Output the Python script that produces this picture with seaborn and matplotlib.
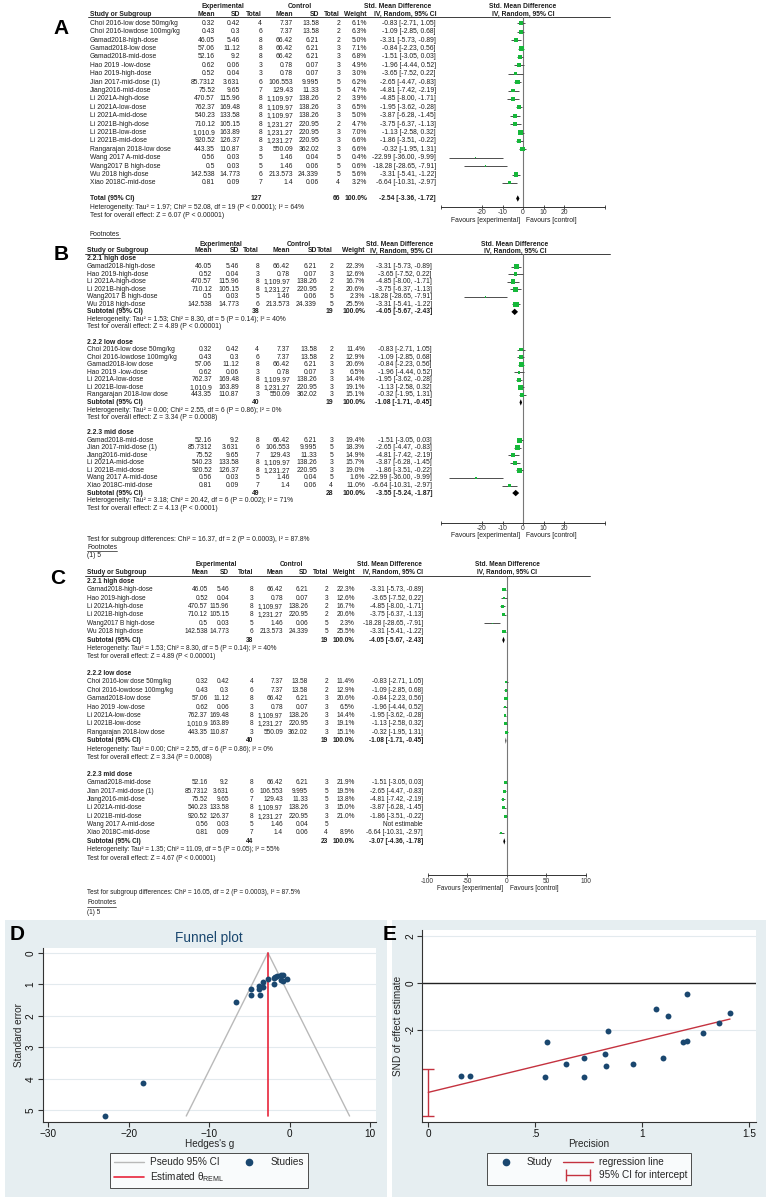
import numpy as np
import pandas as pd
import matplotlib
matplotlib.use("Agg")
import matplotlib.pyplot as plt
import seaborn as sns
from matplotlib.patches import Rectangle
from matplotlib.lines import Line2D
from matplotlib.legend_handler import HandlerLine2D

# ---------------- study data (order of panel A) ----------------
studies = ["Choi 2016-low dose 50mg/kg", "Choi 2016-lowdose 100mg/kg", "Gamad2018-high-dose",
           "Gamad2018-low dose", "Gamad2018-mid-dose", "Hao 2019 -low-dose", "Hao 2019-high-dose",
           "Jian 2017-mid-dose (1)", "Jiang2016-mid-dose", "Li 2021A-high-dose", "Li 2021A-low-dose",
           "Li 2021A-mid-dose", "Li 2021B-high-dose", "Li 2021B-low-dose", "Li 2021B-mid-dose",
           "Rangarajan 2018-low dose", "Wang 2017 A-mid-dose", "Wang2017 B high-dose",
           "Wu 2018 high-dose", "Xiao 2018C-mid-dose"]
exp_mean = ["0.32", "0.43", "46.05", "57.06", "52.16", "0.62", "0.52", "85.7312", "75.52", "470.57",
            "762.37", "540.23", "710.12", "1,010.9", "920.52", "443.35", "0.56", "0.5", "142.538", "0.81"]
exp_sd = ["0.42", "0.3", "5.46", "11.12", "9.2", "0.06", "0.04", "3.631", "9.65", "115.96",
          "169.48", "133.58", "105.15", "163.89", "126.37", "110.87", "0.03", "0.03", "14.773", "0.09"]
exp_n = [4, 6, 8, 8, 8, 3, 3, 6, 7, 8, 8, 8, 8, 8, 8, 3, 5, 5, 6, 7]
ctl_mean = ["7.37", "7.37", "66.42", "66.42", "66.42", "0.78", "0.78", "106.553", "129.43", "1,109.97",
            "1,109.97", "1,109.97", "1,231.27", "1,231.27", "1,231.27", "550.09", "1.46", "1.46", "213.573", "1.4"]
ctl_sd = ["13.58", "13.58", "6.21", "6.21", "6.21", "0.07", "0.07", "9.995", "11.33", "138.26",
          "138.26", "138.26", "220.95", "220.95", "220.95", "362.02", "0.04", "0.06", "24.339", "0.06"]
ctl_n = [2, 2, 2, 3, 3, 3, 3, 5, 5, 2, 3, 3, 2, 3, 3, 3, 5, 5, 5, 4]
weight_A = [6.1, 6.3, 5.0, 7.1, 6.8, 4.9, 3.0, 6.2, 4.7, 3.9, 6.5, 5.0, 4.7, 7.0, 6.6, 6.6, 0.4, 0.6, 5.6, 3.2]
smd = [-0.83, -1.09, -3.31, -0.84, -1.51, -1.96, -3.65, -2.65, -4.81, -4.85,
       -1.95, -3.87, -3.75, -1.13, -1.86, -0.32, -22.99, -18.28, -3.31, -6.64]
ci_lo = [-2.71, -2.85, -5.73, -2.23, -3.05, -4.44, -7.52, -4.47, -7.42, -8.00,
         -3.62, -6.28, -6.37, -2.58, -3.51, -1.95, -36.00, -28.65, -5.41, -10.31]
ci_hi = [1.05, 0.68, -0.89, 0.56, 0.03, 0.52, 0.22, -0.83, -2.19, -1.71,
         -0.28, -1.45, -1.13, 0.32, -0.22, 1.31, -9.99, -7.91, -1.22, -2.97]

total_A = ["Total (95% CI)", 127, 66, -2.54, -3.36, -1.72]
het_A = "Heterogeneity: Tau² = 1.97; Chi² = 52.08, df = 19 (P < 0.0001); I² = 64%"
z_A = "Test for overall effect: Z = 6.07 (P < 0.00001)"

# subgroups (panels B and C)
sub_labels = ["2.2.1 high dose", "2.2.2 low dose", "2.2.3 mid dose"]
sub_idx = [[2, 6, 9, 12, 17, 18], [0, 1, 3, 5, 10, 13, 15], [4, 7, 8, 11, 14, 16, 19]]
w_B = [[22.3, 12.6, 16.7, 20.6, 2.3, 25.5], [11.4, 12.9, 20.6, 6.5, 14.4, 19.1, 15.1],
       [19.4, 18.3, 14.9, 15.7, 19.0, 1.6, 11.0]]
ne_B = [38, 40, 49]
nc_B = [19, 19, 28]
est_B = [-4.05, -1.08, -3.55]
lo_B = [-5.67, -1.71, -5.24]
hi_B = [-2.43, -0.45, -1.87]
het_B = ["Heterogeneity: Tau² = 1.53; Chi² = 8.30, df = 5 (P = 0.14); I² = 40%",
         "Heterogeneity: Tau² = 0.00; Chi² = 2.55, df = 6 (P = 0.86); I² = 0%",
         "Heterogeneity: Tau² = 3.18; Chi² = 20.42, df = 6 (P = 0.002); I² = 71%"]
z_B = ["Test for overall effect: Z = 4.89 (P < 0.00001)",
       "Test for overall effect: Z = 3.34 (P = 0.0008)",
       "Test for overall effect: Z = 4.13 (P < 0.0001)"]
diff_B = "Test for subgroup differences: Chi² = 16.37, df = 2 (P = 0.0003), I² = 87.8%"

w_C = [[22.3, 12.6, 16.7, 20.6, 2.3, 25.5], [11.4, 12.9, 20.6, 6.5, 14.4, 19.1, 15.1],
       [21.9, 19.5, 13.8, 15.0, 21.0, np.nan, 8.9]]
ne_C = [38, 40, 44]
nc_C = [19, 19, 23]
est_C = [-4.05, -1.08, -3.07]
lo_C = [-5.67, -1.71, -4.36]
hi_C = [-2.43, -0.45, -1.78]
het_C = [het_B[0], het_B[1], "Heterogeneity: Tau² = 1.35; Chi² = 11.09, df = 5 (P = 0.05); I² = 55%"]
z_C = [z_B[0], z_B[1], "Test for overall effect: Z = 4.67 (P < 0.00001)"]
diff_C = "Test for subgroup differences: Chi² = 16.05, df = 2 (P = 0.0003), I² = 87.5%"

# funnel plot (D): standard errors, same order as studies
se_funnel = [0.90, 0.86, 1.08, 0.70, 0.75, 0.99, 1.33, 0.83, 1.14, 1.34,
             0.79, 1.07, 1.15, 0.72, 0.78, 0.82, 5.18, 4.14, 0.93, 1.55]
theta_reml = -2.70

# Galbraith / Egger plot (E)
prec_E = [0.154, 0.195, 0.547, 0.553, 0.642, 0.729, 0.729, 0.827, 0.830, 0.840,
          0.956, 1.064, 1.097, 1.122, 1.188, 1.207, 1.209, 1.282, 1.360, 1.410]
snd_E = [-3.97, -3.97, -3.99, -2.52, -3.45, -3.18, -3.99, -3.04, -3.52, -2.06,
         -3.46, -1.10, -3.18, -1.40, -2.52, -2.45, -0.48, -2.12, -1.70, -1.29]
egger_ci = [-5.65, -3.67]

# ---------------- figure set-up ----------------
sns.set_theme(style="white")
plt.rcParams["font.family"] = ["Liberation Sans", "DejaVu Sans"]

W, H = 768, 1200
TXT = "#1e1e1e"
GREEN = "#16b83a"
CI_COL = "#4d4d4d"
NAVY = "#1a476f"
BG = "#e6eef1"

fig = plt.figure(figsize=(7.68, 12), dpi=100)
canvas = fig.add_axes([0, 0, 1, 1])
canvas.set_xlim(0, W)
canvas.set_ylim(H, 0)
canvas.axis("off")


def px_axes(x0, y0, x1, y1):
    return fig.add_axes([x0 / W, 1 - y1 / H, (x1 - x0) / W, (y1 - y0) / H])


def txt(x, y, s, fs, ha="left", bold=False):
    return canvas.text(x, y, s, fontsize=fs, color=TXT, ha=ha, va="center",
                       fontweight="bold" if bold else "normal")


def underline(t, y):
    r = fig.canvas.get_renderer()
    bb = t.get_window_extent(r).transformed(canvas.transData.inverted())
    canvas.plot([bb.x0, bb.x1], [y, y], color=TXT, lw=0.5)


def header(cols, y1, y2, x_end, fs):
    txt(cols["exp"], y1, "Experimental", fs, "center", True)
    txt(cols["ctl"], y1, "Control", fs, "center", True)
    txt(cols["smd"], y1, "Std. Mean Difference", fs, "center", True)
    txt(cols["forest"], y1, "Std. Mean Difference", fs, "center", True)
    txt(cols["study"], y2, "Study or Subgroup", fs, "left", True)
    for key, lab in [("em", "Mean"), ("esd", "SD"), ("en", "Total"), ("cm", "Mean"), ("csd", "SD"),
                     ("cn", "Total"), ("w", "Weight"), ("ci", "IV, Random, 95% CI")]:
        txt(cols[key], y2, lab, fs, "right", True)
    txt(cols["forest"], y2, "IV, Random, 95% CI", fs, "center", True)
    canvas.plot([cols["study"] - 2, x_end], [y2 + 3.2, y2 + 3.2], color=TXT, lw=0.6)


def study_row(cols, y, i, w, fs):
    txt(cols["study"], y, studies[i], fs)
    vals = [exp_mean[i], exp_sd[i], str(exp_n[i]), ctl_mean[i], ctl_sd[i], str(ctl_n[i])]
    for key, v in zip(["em", "esd", "en", "cm", "csd", "cn"], vals):
        txt(cols[key], y, v, fs, "right")
    if np.isnan(w):
        txt(cols["ci"], y, "Not estimable", fs, "right")
    else:
        txt(cols["w"], y, f"{w:.1f}%", fs, "right")
        txt(cols["ci"], y, f"{smd[i]:.2f} [{ci_lo[i]:.2f}, {ci_hi[i]:.2f}]", fs, "right")


def total_row(cols, y, label, n_e, n_c, est, lo, hi, fs):
    txt(cols["study"], y, label, fs, "left", True)
    txt(cols["en"], y, str(n_e), fs, "right", True)
    txt(cols["cn"], y, str(n_c), fs, "right", True)
    txt(cols["w"], y, "100.0%", fs, "right", True)
    txt(cols["ci"], y, f"{est:.2f} [{lo:.2f}, {hi:.2f}]", fs, "right", True)


def forest_axes(x0, x1, y_top, y_axis, lim, fav_y, fs):
    ax = px_axes(x0, y_top, x1, y_axis)
    ax.set_facecolor("none")
    for s in ["top", "left", "right"]:
        ax.spines[s].set_visible(False)
    ax.spines["bottom"].set_color("#333333")
    ax.spines["bottom"].set_linewidth(0.7)
    ax.axvline(0, color="#777777", lw=0.8, zorder=1)
    off = 3 * 2 * lim / (x1 - x0)
    ax.text(-off, fav_y, "Favours [experimental]", fontsize=fs, color=TXT, ha="right", va="center")
    ax.text(off, fav_y, "Favours [control]", fontsize=fs, color=TXT, ha="left", va="center")
    return ax


def finish_forest(ax, y_top, y_axis, lim, ticks, labels, fs):
    ax.set_xlim(-lim, lim)
    ax.set_ylim(y_axis, y_top)
    ax.set_xticks(ticks)
    ax.set_xticklabels(labels)
    ax.set_yticks([])
    ax.set_xlabel("")
    ax.set_ylabel("")
    ax.tick_params(axis="x", bottom=True, direction="inout", length=3, width=0.6,
                   labelsize=fs, pad=0.5, colors="#333333")


def forest_marks(ax, idx, weights, ys, k_area):
    df = pd.DataFrame({"smd": [smd[i] for i in idx], "lo": [ci_lo[i] for i in idx],
                       "hi": [ci_hi[i] for i in idx], "w": weights, "y": ys}).dropna()
    ax.hlines(df["y"], df["lo"], df["hi"], color=CI_COL, lw=0.7, zorder=2)
    sns.scatterplot(data=df, x="smd", y="y", size="w", sizes=(0, k_area * 100), size_norm=(0, 100),
                    marker="s", color=GREEN, linewidth=0, legend=False, ax=ax, zorder=3)


def diamond(ax, y, est, lo, hi, h=3.2):
    ax.fill([lo, est, hi, est], [y, y - h, y, y + h], color="black", lw=0, zorder=4)


# ---------------- panel A ----------------
fsA = 4.9
colsA = dict(study=90, em=215, esd=240, en=262, cm=293, csd=319, cn=340, w=367, ci=436,
             exp=223, ctl=300, smd=398, forest=523)
canvas.text(61, 29, "A", fontsize=15, fontweight="bold", color="black", ha="center", va="center")
header(colsA, 6, 14, 610, fsA)
rowA = 23.3 + 8.4 * np.arange(len(studies))
for i, y in enumerate(rowA):
    study_row(colsA, y, i, weight_A[i], fsA)
total_row(colsA, 198.5, *total_A, fsA)
txt(colsA["study"], 207.7, het_A, fsA)
txt(colsA["study"], 215.7, z_A, fsA)
t = txt(colsA["study"], 234, "Footnotes", fsA)
underline(t, 237.5)

axA = forest_axes(441, 605, 17.2, 206.7, 40, 220, fsA)
forest_marks(axA, list(range(len(studies))), weight_A, rowA, 1.5)
diamond(axA, 198.5, total_A[3], total_A[4], total_A[5])
finish_forest(axA, 17.2, 206.7, 40, [-40, -20, -10, 0, 10, 20, 40],
              ["", "-20", "-10", "0", "10", "20", ""], fsA)


# ---------------- panels B and C ----------------
def subgroup_panel(cols, ax, y0, step, ws, ne, nc, est, lo, hi, het, zz, fs, k_area):
    k = 0
    for g in range(3):
        idx = sub_idx[g]
        txt(cols["study"], y0 + k * step, sub_labels[g], fs, "left", True)
        ys = y0 + step * (k + 1 + np.arange(len(idx)))
        for i, w, y in zip(idx, ws[g], ys):
            study_row(cols, y, i, w, fs)
        forest_marks(ax, idx, ws[g], ys, k_area)
        ysub = y0 + step * (k + len(idx) + 1)
        total_row(cols, ysub, "Subtotal (95% CI)", ne[g], nc[g], est[g], lo[g], hi[g], fs)
        diamond(ax, ysub, est[g], lo[g], hi[g])
        txt(cols["study"], ysub + step, het[g], fs)
        txt(cols["study"], ysub + 2 * step, zz[g], fs)
        k += len(idx) + 5


fsB = 4.9
colsB = dict(study=87, em=212, esd=239, en=259, cm=290, csd=317, cn=333, w=365, ci=432,
             exp=221, ctl=299, smd=400, forest=515)
canvas.text(61, 254, "B", fontsize=15, fontweight="bold", color="black", ha="center", va="center")
header(colsB, 244, 251, 610, fsB)
axB = forest_axes(441, 605, 254, 522.7, 40, 535, fsB)
subgroup_panel(colsB, axB, 259, 7.55, w_B, ne_B, nc_B, est_B, lo_B, hi_B, het_B, z_B, fsB, 0.63)
finish_forest(axB, 254, 522.7, 40, [-40, -20, -10, 0, 10, 20, 40],
              ["", "-20", "-10", "0", "10", "20", ""], fsB)
txt(colsB["study"], 539.3, diff_B, fsB)
t = txt(colsB["study"], 547.7, "Footnotes", fsB)
underline(t, 551)
txt(colsB["study"], 555.7, "(1) 5", fsB)

fsC = 4.7
colsC = dict(study=87, em=208, esd=229, en=253, cm=283, csd=308, cn=328, w=355, ci=423,
             exp=216, ctl=291, smd=389, forest=507)
canvas.text(58, 578, "C", fontsize=15, fontweight="bold", color="black", ha="center", va="center")
header(colsC, 564.7, 572.7, 590, fsC)
axC = forest_axes(427.7, 585.7, 575.5, 875, 100, 889, fsC)
subgroup_panel(colsC, axC, 581.3, 8.39, w_C, ne_C, nc_C, est_C, lo_C, hi_C, het_C, z_C, fsC, 0.25)
finish_forest(axC, 575.5, 875, 100, [-100, -50, 0, 50, 100],
              ["-100", "-50", "0", "50", "100"], fsC)
txt(colsC["study"], 893, diff_C, fsC)
t = txt(colsC["study"], 903, "Footnotes", fsC)
underline(t, 906.5)
txt(colsC["study"], 912, "(1) 5", fsC)

# ---------------- panels D and E (Stata-style) ----------------
canvas.add_patch(Rectangle((5, 920), 382, 277, facecolor=BG, edgecolor="none"))
canvas.add_patch(Rectangle((392, 920), 374, 277, facecolor=BG, edgecolor="none"))
FS_ST = 7.2


def stata_axes(ax):
    ax.set_facecolor("white")
    for s in ["top", "right"]:
        ax.spines[s].set_visible(False)
    for s in ["left", "bottom"]:
        ax.spines[s].set_color("#333333")
        ax.spines[s].set_linewidth(0.8)
    ax.tick_params(bottom=True, left=True, direction="out", length=3.6, width=0.8, pad=1.5,
                   colors="#333333", labelsize=FS_ST, labelcolor="#111111")
    ax.yaxis.grid(True, color="#e3eaee", lw=0.8)
    ax.xaxis.grid(False)
    ax.set_axisbelow(True)


def stata_legend(ax, handles, labels, cx, **kw):
    leg = ax.legend(handles, labels, ncol=2, loc="upper center", bbox_to_anchor=(cx / W, 1 - 1153 / H),
                    bbox_transform=fig.transFigure, fontsize=FS_ST, frameon=True, fancybox=False,
                    edgecolor="#222222", borderpad=0.4, borderaxespad=0, handlelength=3.0,
                    handletextpad=0.6, columnspacing=1.0, labelspacing=0.35, **kw)
    leg.get_frame().set_linewidth(0.7)
    return leg


# D: funnel plot
ax_d = px_axes(42.7, 947.7, 375.7, 1121.7)
stata_axes(ax_d)
fd = pd.DataFrame({"g": smd, "se": se_funnel})
se_max = max(se_funnel)
ax_d.plot([theta_reml - 1.96 * se_max, theta_reml, theta_reml + 1.96 * se_max], [se_max, 0, se_max],
          color="#b9b9b9", lw=1)
ax_d.plot([theta_reml, theta_reml], [0, se_max], color="#e8253b", lw=1.2)
sns.scatterplot(data=fd, x="g", y="se", ax=ax_d, color=NAVY, s=18, linewidth=0, zorder=3, legend=False)
ax_d.set_xlim(-30.7, 10.7)
ax_d.set_ylim(5.36, -0.16)
ax_d.set_xticks([-30, -20, -10, 0, 10])
ax_d.set_yticks([0, 1, 2, 3, 4, 5])
ax_d.set_yticklabels(["0", "1", "2", "3", "4", "5"], rotation=90, va="center")
ax_d.set_xlabel("Hedges's g", fontsize=FS_ST, labelpad=0.5)
ax_d.set_ylabel("Standard error", fontsize=FS_ST, labelpad=1.5)
ax_d.set_title("Funnel plot", fontsize=9.8, color=NAVY, pad=4)
canvas.text(17, 935, "D", fontsize=15, fontweight="bold", color="black", ha="center", va="center")

hd = [Line2D([], [], color="#b9b9b9", lw=1), Line2D([], [], color="#e8253b", lw=1.2),
      Line2D([], [], ls="", marker="o", color=NAVY, ms=4.5), Line2D([], [], ls="", marker="")]
stata_legend(ax_d, hd, ["Pseudo 95% CI", "Estimated θ$_{\\mathregular{REML}}$", "Studies", ""], 209)

# E: Galbraith / Egger plot
ax_e = px_axes(422.3, 930, 755.7, 1121.7)
stata_axes(ax_e)
fe = pd.DataFrame({"precision": prec_E, "snd": snd_E})
slope, icpt = np.polyfit(fe["precision"], fe["snd"], 1)
xs = np.array([0, fe["precision"].max()])
RED = "#c4323f"
ax_e.axhline(0, color="#222222", lw=1)
ax_e.plot(xs, icpt + slope * xs, color=RED, lw=1)
mid = np.mean(egger_ci)
ax_e.errorbar([0], [mid], yerr=[[mid - egger_ci[0]], [egger_ci[1] - mid]], color=RED,
              capsize=4, lw=1, capthick=1)
sns.scatterplot(data=fe, x="precision", y="snd", ax=ax_e, color=NAVY, s=18, linewidth=0,
                zorder=3, legend=False)
ax_e.set_xlim(-0.028, 1.53)
ax_e.set_ylim(-5.9, 2.25)
ax_e.set_xticks([0, 0.5, 1, 1.5])
ax_e.set_xticklabels(["0", ".5", "1", "1.5"])
ax_e.set_yticks([-2, 0, 2])
ax_e.set_yticklabels(["-2", "0", "2"], rotation=90, va="center")
ax_e.set_xlabel("Precision", fontsize=FS_ST, labelpad=0.5)
ax_e.set_ylabel("SND of effect estimate", fontsize=FS_ST, labelpad=1.5)
canvas.text(390, 935, "E", fontsize=15, fontweight="bold", color="black", ha="center", va="center")

ci_handle = Line2D([], [], color=RED, lw=1, marker="|", ms=8, mew=1)
he = [Line2D([], [], ls="", marker="o", color=NAVY, ms=4.5), Line2D([], [], ls="", marker=""),
      Line2D([], [], color=RED, lw=1), ci_handle]
stata_legend(ax_e, he, ["Study", "", "regression line", "95% CI for intercept"], 589,
             handler_map={ci_handle: HandlerLine2D(numpoints=2)})

fig.savefig("out.png", dpi=100)
